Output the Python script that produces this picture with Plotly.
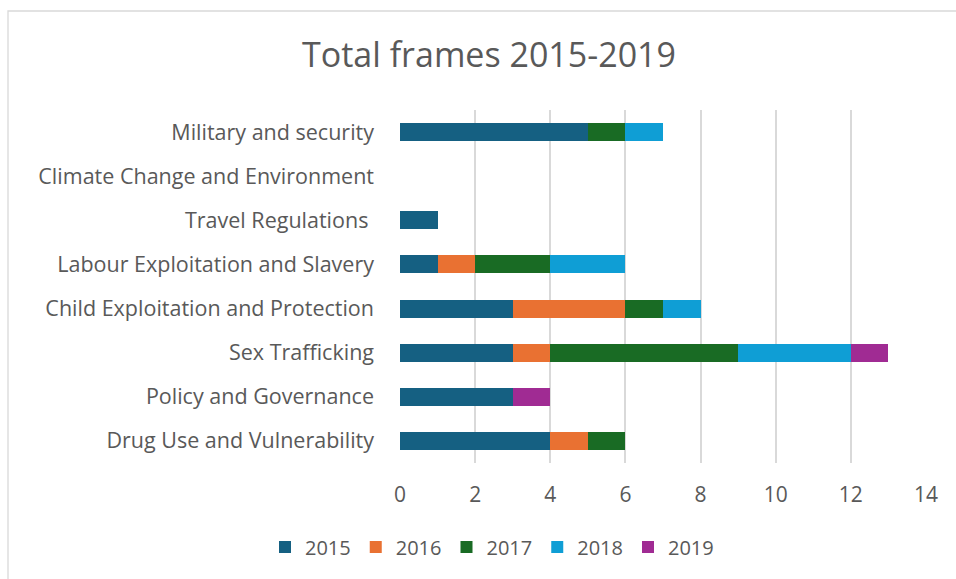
import plotly.graph_objects as go

# Frame categories, listed bottom to top as they appear on the y axis
categories = [
    "Drug Use and Vulnerability",
    "Policy and Governance",
    "Sex Trafficking",
    "Child Exploitation and Protection",
    "Labour Exploitation and Slavery",
    "Travel Regulations\u00a0",
    "Climate Change and Environment",
    "Military and security",
]

years = ["2015", "2016", "2017", "2018", "2019"]

counts_2015 = [4, 3, 3, 3, 1, 1, 0, 5]
counts_2016 = [1, 0, 1, 3, 1, 0, 0, 0]
counts_2017 = [1, 0, 5, 1, 2, 0, 0, 1]
counts_2018 = [0, 0, 3, 1, 2, 0, 0, 1]
counts_2019 = [0, 1, 1, 0, 0, 0, 0, 0]

series = [counts_2015, counts_2016, counts_2017, counts_2018, counts_2019]
colors = ["#156082", "#E97132", "#196B24", "#0F9ED5", "#A02B93"]

x_ticks = [0, 2, 4, 6, 8, 10, 12, 14]

W, H = 956, 579
ML, MR, MT, MB = 400, 30, 110, 116

text_color = "#595959"
grid_color = "#D9D9D9"
font_family = "Open Sans, Lato, sans-serif"

fig = go.Figure()
for year, vals, col in zip(years, series, colors):
    fig.add_trace(go.Bar(
        y=categories,
        x=vals,
        name=year,
        orientation="h",
        marker=dict(color=col, line=dict(width=0)),
    ))

# px -> paper coordinates for the outer chart border
def px_x(px):
    return (px - ML) / (W - ML - MR)

def px_y(py):
    return (H - MB - py) / (H - MT - MB)

fig.add_shape(
    type="rect", xref="paper", yref="paper",
    x0=px_x(8), x1=px_x(1000), y0=px_y(640), y1=px_y(11),
    line=dict(color="#D9D9D9", width=1.3), fillcolor="rgba(0,0,0,0)",
    layer="below",
)

fig.update_layout(
    width=W, height=H,
    margin=dict(l=ML, r=MR, t=MT, b=MB),
    paper_bgcolor="white",
    plot_bgcolor="white",
    barmode="stack",
    bargap=0.59,
    title=dict(
        text="Total frames 2015-2019",
        x=489 / W, xanchor="center", xref="container",
        y=1 - 55 / H, yanchor="middle", yref="container",
        font=dict(family=font_family, size=34, color=text_color),
    ),
    font=dict(family=font_family, color=text_color, size=21),
    legend=dict(
        orientation="h",
        x=492 / W, xanchor="center", xref="container",
        y=1 - 547 / H, yanchor="middle", yref="container",
        font=dict(size=20, color=text_color),
        traceorder="normal",
        itemclick=False,
        itemwidth=30,
    ),
    showlegend=True,
)

fig.update_xaxes(
    range=[0, 14],
    tickvals=x_ticks,
    showgrid=True, gridcolor=grid_color, gridwidth=1.5,
    zeroline=False,
    showline=False,
    ticks="",
    ticklabelstandoff=17,
    tickfont=dict(size=21, color=text_color),
    fixedrange=True,
)
fig.update_yaxes(
    categoryorder="array", categoryarray=categories,
    showgrid=False, zeroline=False, showline=False,
    ticks="",
    ticklabelstandoff=25,
    tickfont=dict(size=21.5, color=text_color),
    fixedrange=True,
)

fig.write_html("out.html")
